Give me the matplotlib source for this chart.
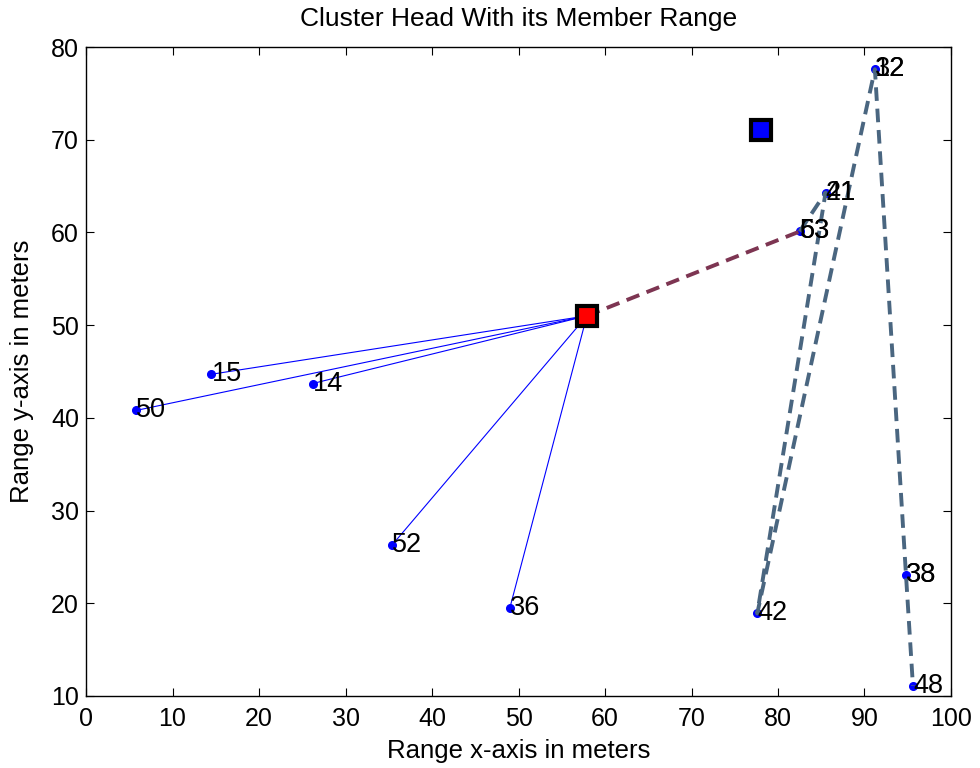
import matplotlib
matplotlib.use("Agg")
import matplotlib.pyplot as plt

plt.rcParams['font.family'] = ['Liberation Sans', 'DejaVu Sans']

# Cluster head position and the second (unused) head
head_xy = (57.9, 51.0)
other_head_xy = (78.0, 71.1)

# Members linked directly to the cluster head
member_ids = ["15", "14", "50", "52", "36"]
member_x = [14.5, 26.2, 5.8, 35.4, 49.0]
member_y = [44.7, 43.7, 40.8, 26.3, 19.5]

# Multi-hop route nodes (several ids share one location)
route_ids = [["53", "63"], ["21", "41"], ["42"], ["12", "32"], ["33", "38"], ["48"]]
route_x = [82.5, 85.5, 77.6, 91.2, 94.8, 95.6]
route_y = [60.1, 64.3, 18.9, 77.6, 23.0, 11.1]

fig = plt.figure(figsize=(9.8, 7.68), dpi=100)
ax = fig.add_axes([0.0878, 0.0938, 0.8826, 0.845])

# direct member links
for mx, my in zip(member_x, member_y):
    ax.plot([head_xy[0], mx], [head_xy[1], my], color='#0000ff', lw=0.8, zorder=2)

# first hop from the head to the route
ax.plot([head_xy[0], route_x[0]], [head_xy[1], route_y[0]], color='#7d3552',
        lw=2.8, ls=(0, (3.5, 2)), zorder=3)
# remaining hops
ax.plot(route_x, route_y, color='#4a6680', lw=2.8, ls=(0, (3.5, 2)), zorder=3)

# node dots and labels
ax.plot(member_x, member_y, '.', color='#0000ff', ms=11, zorder=4)
ax.plot(route_x, route_y, '.', color='#0000ff', ms=11, zorder=2.5)
for lab, x, y in zip(member_ids, member_x, member_y):
    ax.text(x, y, lab, fontsize=19.5, ha='left', va='center', zorder=5)
for labs, x, y in zip(route_ids, route_x, route_y):
    for lab in labs:
        ax.text(x, y, lab, fontsize=19.5, ha='left', va='center', zorder=5)

# cluster heads
ax.plot(*head_xy, 's', color='#ff0000', mec='black', mew=3, ms=14, zorder=6)
ax.plot(*other_head_xy, 's', color='#0000ff', mec='black', mew=3, ms=14, zorder=6)

ax.set_xlim(0, 100)
ax.set_ylim(10, 80)
ax.set_xticks(range(0, 101, 10))
ax.set_yticks(range(10, 81, 10))
ax.tick_params(direction='in', top=True, right=True, labelsize=18, length=6)
ax.tick_params(axis='x', pad=8)
ax.tick_params(axis='y', pad=5)
for s in ax.spines.values():
    s.set_linewidth(1.0)

ax.set_title("Cluster Head With its Member Range", fontsize=19, pad=15)
ax.set_xlabel("Range x-axis in meters", fontsize=18.5, labelpad=6)
ax.set_ylabel("Range y-axis in meters", fontsize=18.5, labelpad=12)

fig.savefig("out.png", dpi=100)
